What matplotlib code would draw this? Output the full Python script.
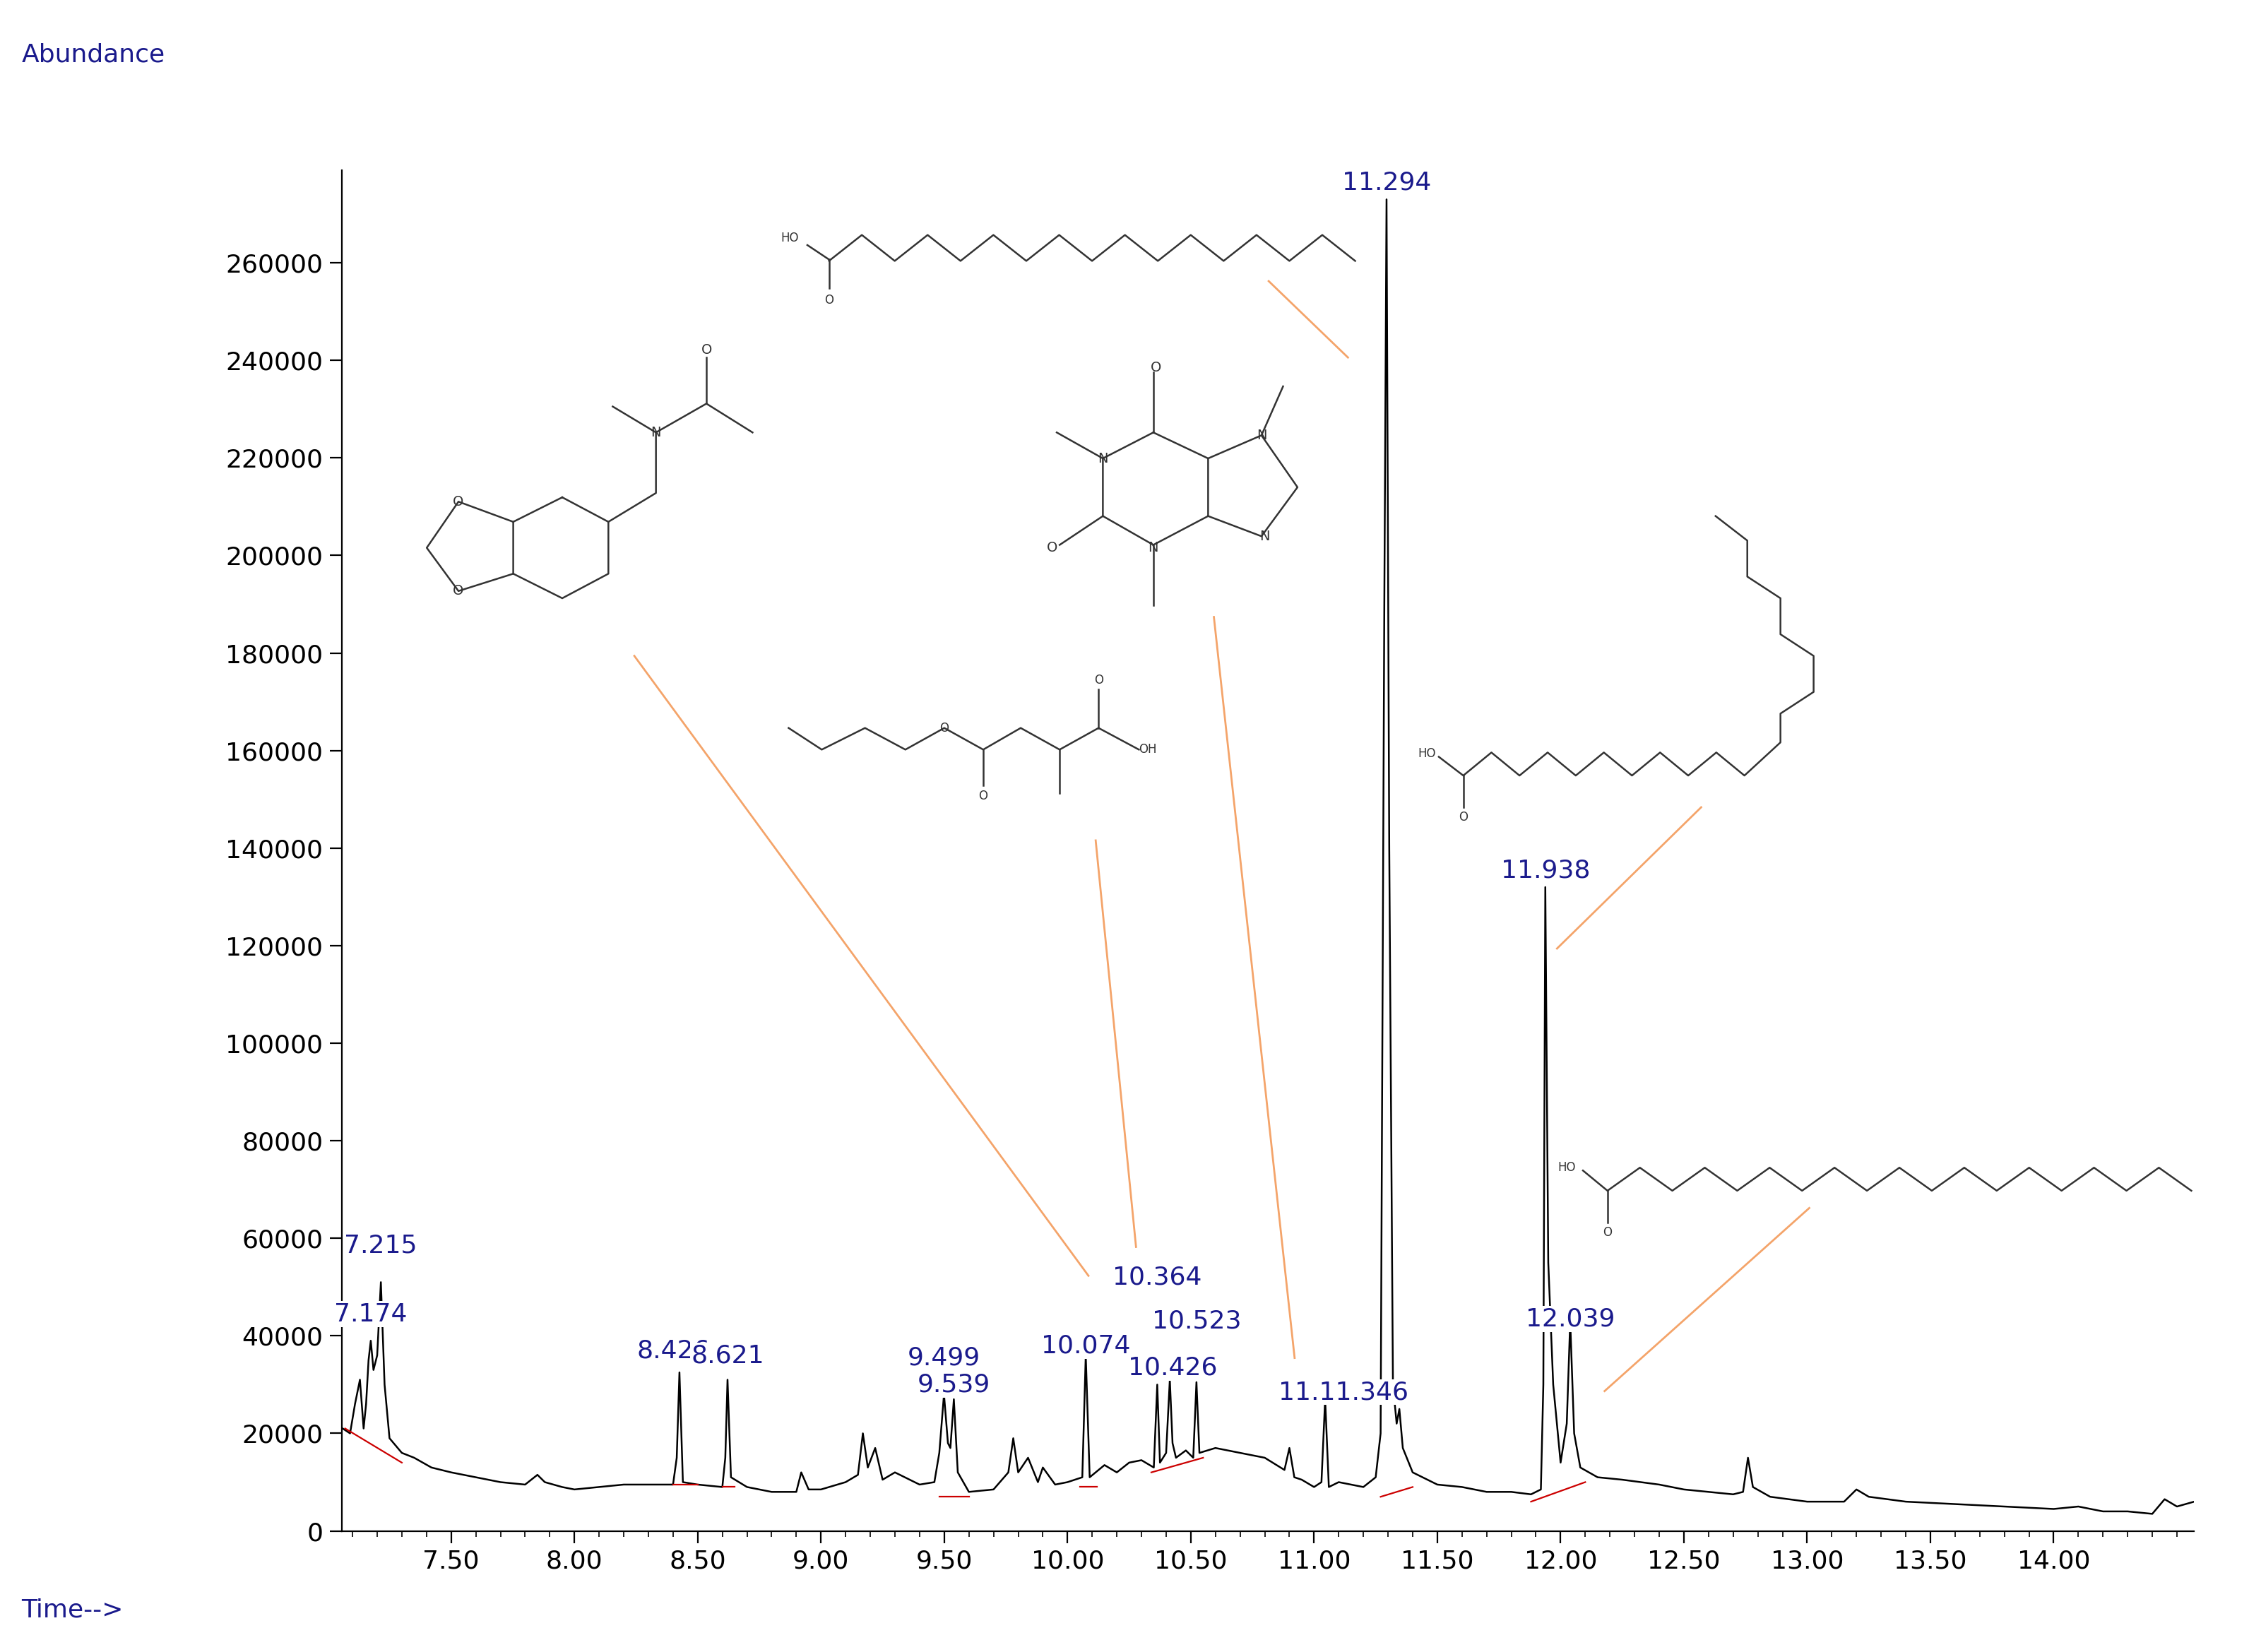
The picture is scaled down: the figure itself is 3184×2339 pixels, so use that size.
import matplotlib
matplotlib.use("Agg")
import matplotlib.pyplot as plt
import numpy as np
from matplotlib.lines import Line2D

# ---- data: chromatogram trace points (time, abundance) ----
trace_pts = [(7.06,21000),(7.09,20000),(7.11,26000),(7.13,31000),(7.145,21000),(7.155,26000),(7.165,35000),
 (7.174,39000),(7.185,33000),(7.20,36000),(7.215,51000),(7.23,30000),(7.25,19000),(7.30,16000),(7.35,15000),
 (7.42,13000),(7.50,12000),(7.60,11000),(7.70,10000),(7.80,9500),(7.85,11500),(7.88,10000),(7.95,9000),
 (8.00,8500),(8.10,9000),(8.20,9500),(8.30,9500),(8.40,9500),(8.415,15000),(8.426,32500),(8.44,10000),
 (8.50,9500),(8.60,9000),(8.612,15000),(8.621,31000),(8.635,11000),(8.70,9000),(8.80,8000),(8.90,8000),
 (8.92,12000),(8.95,8500),(9.00,8500),(9.10,10000),(9.15,11500),(9.17,20000),(9.19,13000),(9.22,17000),
 (9.25,10500),(9.30,12000),(9.40,9500),(9.46,10000),(9.48,16000),(9.499,28000),(9.515,18000),(9.525,17000),
 (9.539,27000),(9.555,12000),(9.60,8000),(9.70,8500),(9.76,12000),(9.78,19000),(9.80,12000),(9.84,15000),
 (9.88,10000),(9.90,13000),(9.95,9500),(10.00,10000),(10.06,11000),(10.074,36000),(10.09,11000),(10.15,13500),
 (10.20,12000),(10.25,14000),(10.30,14500),(10.35,13000),(10.364,30000),(10.375,14000),(10.40,16000),
 (10.415,31000),(10.426,18000),(10.44,15000),(10.48,16500),(10.51,15000),(10.523,30500),(10.535,16000),
 (10.60,17000),(10.70,16000),(10.80,15000),(10.88,12500),(10.90,17000),(10.92,11000),(10.95,10500),
 (11.00,9000),(11.03,10000),(11.045,27000),(11.06,9000),(11.10,10000),(11.20,9000),(11.25,11000),
 (11.27,20000),(11.285,190000),(11.294,273000),(11.305,140000),(11.32,30000),(11.335,22000),(11.346,25000),
 (11.36,17000),(11.40,12000),(11.50,9500),(11.60,9000),(11.70,8000),(11.80,8000),(11.88,7500),(11.92,8500),
 (11.93,30000),(11.938,132000),(11.95,55000),(11.97,30000),(12.00,14000),(12.025,22000),(12.039,43000),
 (12.055,20000),(12.08,13000),(12.15,11000),(12.25,10500),(12.40,9500),(12.50,8500),(12.60,8000),
 (12.70,7500),(12.74,8000),(12.76,15000),(12.78,9000),(12.85,7000),(13.00,6000),(13.15,6000),(13.20,8500),
 (13.25,7000),(13.40,6000),(13.60,5500),(13.80,5000),(14.00,4500),(14.10,5000),(14.20,4000),(14.30,4000),
 (14.40,3500),(14.45,6500),(14.50,5000),(14.57,6000)]
trace_t = [p[0] for p in trace_pts]
trace_y = [p[1] for p in trace_pts]

# peak labels (text, x, y)
label_text = ["7.215","7.174","8.426","8.621","9.499","9.539","10.074","10.364","10.523","10.426","11.11.346","11.294","11.938","12.039"]
label_x = [7.215,7.174,8.40,8.621,9.499,9.539,10.074,10.364,10.523,10.426,11.12,11.294,11.938,12.039]
label_y = [56000,42000,34500,33500,33000,27500,35500,49500,40500,31000,26000,274000,133000,41000]

# red baseline segments (t0,y0,t1,y1)
red_segs = [(7.07,21000,7.30,14000),(8.40,9500,8.50,9500),(8.60,9000,8.65,9000),
            (9.48,7000,9.60,7000),(10.05,9000,10.12,9000),(10.34,12000,10.55,15000),
            (11.27,7000,11.40,9000),(11.88,6000,12.10,10000)]

xticks = [7.5,8.0,8.5,9.0,9.5,10.0,10.5,11.0,11.5,12.0,12.5,13.0,13.5,14.0]
yticks = list(range(0,260001,20000))

W, H = 1560.0, 1146.0
fig = plt.figure(figsize=(15.92,11.695), dpi=200)
ax = fig.add_axes([237/W, 1-1062/H, (1522-237)/W, (1062-118)/H])
ax.plot(trace_t, trace_y, color="black", lw=0.9)
for s in red_segs:
    ax.plot([s[0],s[2]],[s[1],s[3]], color="#cc0000", lw=0.8)
blue = "#1a1a8c"
for t,x,y in zip(label_text,label_x,label_y):
    ax.text(x, y, t, color=blue, fontsize=13, ha="center", va="bottom",
            bbox=dict(facecolor="white", edgecolor="none", pad=0.5))
ax.set_xlim(7.056, 14.57)
ax.set_ylim(0, 279000)
ax.set_xticks(xticks)
ax.set_xticklabels([f"{v:.2f}" for v in xticks], fontsize=13)
ax.set_yticks(yticks)
ax.set_yticklabels([str(v) for v in yticks], fontsize=13)
ax.set_xticks(np.arange(7.1,14.6,0.1), minor=True)
for sp in ["top","right"]:
    ax.spines[sp].set_visible(False)
ax.tick_params(direction="out", length=6)
ax.tick_params(which="minor", length=3)
fig.text(15/W, 1-38/H, "Abundance", color=blue, fontsize=13, va="center")
fig.text(15/W, 1-1117/H, "Time-->", color=blue, fontsize=13, va="center")

# ---- structure sketches and leader lines (figure pixel coords) ----
def P(x,y): return (x/W, 1-y/H)
def line(pts, color="#333333", lw=0.9):
    xs=[P(*p)[0] for p in pts]; ys=[P(*p)[1] for p in pts]
    fig.add_artist(Line2D(xs, ys, color=color, lw=lw, transform=fig.transFigure))
def txt(x,y,s,fs=6):
    fig.text(*P(x,y), s, fontsize=fs, ha="center", va="center", color="#333333")
def zig(x0,y0,x1,n,amp,start=1):
    xs=np.linspace(x0,x1,n+1); return [(x, y0 + (amp if (i+start)%2 else -amp)) for i,x in enumerate(xs)]
orange="#f4a46a"
for a,b in [((440,455),(755,885)),((760,583),(788,865)),((842,428),(898,942)),
            ((880,195),(935,248)),((1180,560),(1080,658)),((1255,838),(1113,965))]:
    line([a,b], color=orange, lw=1.0)
# palmitic acid
line([(560,170),(575,180)]+zig(575,172,940,16,9)); line([(575,180),(575,200)]); txt(548,165,"HO"); txt(575,208,"O",6)
# stearic acid
line([(1098,812),(1115,826)]+zig(1115,818,1520,18,8)); line([(1115,826),(1115,848)]); txt(1087,810,"HO"); txt(1115,855,"O",6)
# oleic acid
pts=[(998,525),(1015,538)]+zig(1015,530,1210,10,8)+[(1235,515),(1235,495),(1258,480),(1258,455),(1235,440),(1235,415),(1212,400),(1212,375),(1190,358)]
line(pts); line([(1015,538),(1015,560)]); txt(990,523,"HO"); txt(1015,567,"O",6)
# caffeine
hexa=[(800,300),(838,318),(838,358),(800,378),(765,358),(765,318),(800,300)]
line(hexa); line([(838,318),(875,302),(900,338),(875,372),(838,358)])
line([(800,300),(800,258)]); txt(802,255,"O",7); line([(765,358),(735,378)]); txt(730,380,"O",7)
line([(765,318),(733,300)]); line([(800,378),(800,420)]); line([(875,302),(890,268)])
txt(765,318,"N",7); txt(800,380,"N",7); txt(875,302,"N",7); txt(877,372,"N",7)
# amide / benzodioxole
ring=[(390,345),(422,362),(422,398),(390,415),(356,398),(356,362),(390,345)]
line(ring); line([(422,362),(455,342),(455,300),(425,282)]); line([(455,300),(490,280),(522,300)])
line([(490,280),(490,248)]); txt(490,243,"O",7); txt(455,300,"N",7)
line([(356,362),(318,348),(296,380),(318,410),(356,398)]); txt(318,348,"O",7); txt(318,410,"O",7)
# butyl itaconate
line([(547,505),(570,520),(600,505),(628,520),(655,505),(682,520),(708,505),(735,520),(762,505),(790,520)])
line([(682,520),(682,545)]); txt(682,552,"O",6); txt(655,505,"O",6)
line([(735,520),(735,550)]); line([(762,505),(762,478)]); txt(762,472,"O",6); txt(796,520,"OH",6)

fig.savefig("out.png", dpi=200, facecolor="white")
